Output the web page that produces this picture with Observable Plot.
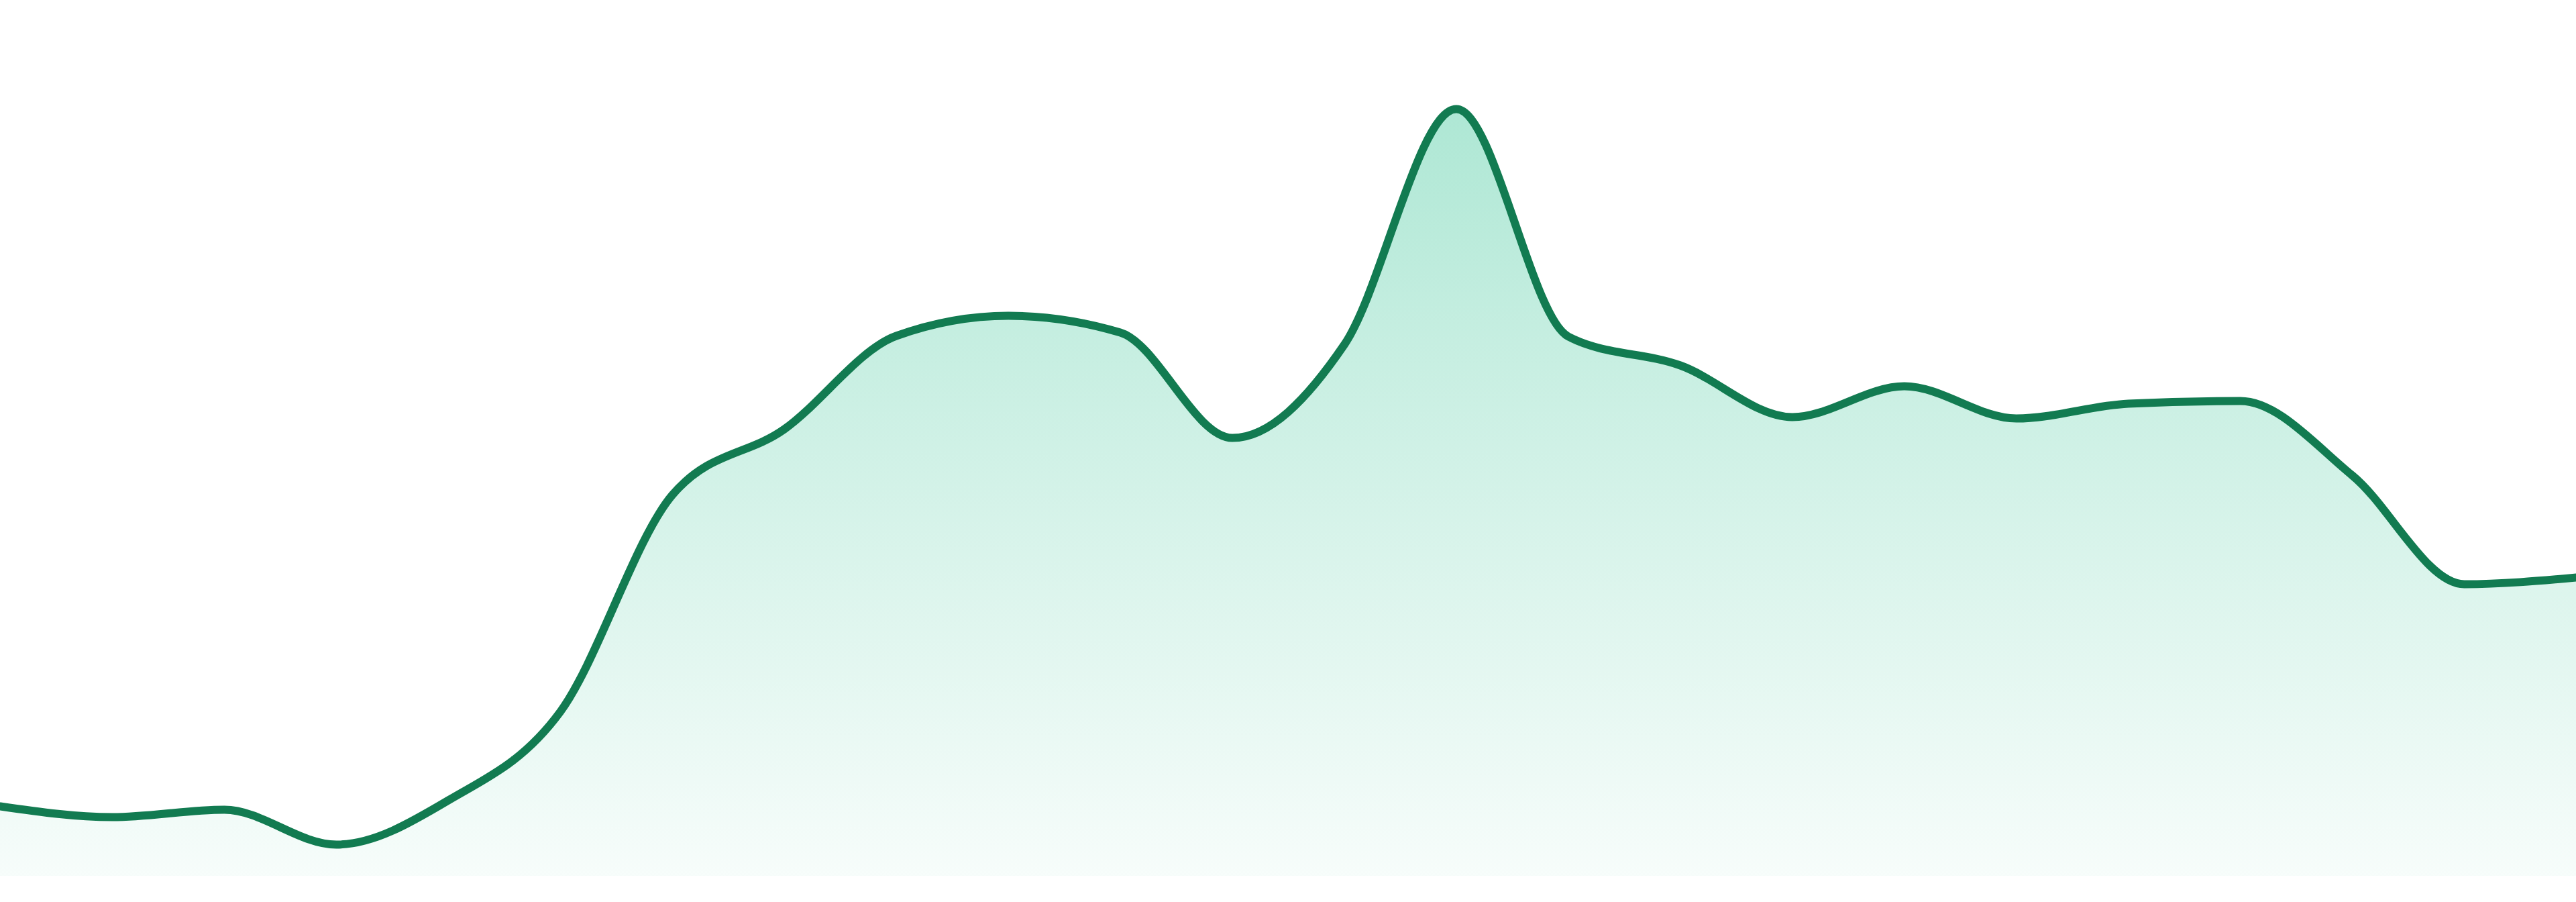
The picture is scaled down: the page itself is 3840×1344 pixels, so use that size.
<!DOCTYPE html>
<html>
<head>
<meta charset="utf-8">
<script src="https://cdn.jsdelivr.net/npm/d3@7"></script>
<script src="https://cdn.jsdelivr.net/npm/@observablehq/plot@0.6"></script>
<style>
  html, body { margin: 0; padding: 0; background: #ffffff; overflow: hidden; }
  #chart svg { display: block; }
</style>
</head>
<body>
<div id="chart"></div>
<script>
// Period index (evenly spaced samples across the chart)
const periods = [0, 1, 2, 3, 4, 5, 6, 7, 8, 9, 10, 11, 12, 13, 14, 15, 16, 17, 18, 19, 20, 21, 22, 23];
// Series values (relative units, baseline 0)
const values = [10.4, 8.8, 9.9, 4.7, 11.3, 24.5, 56.8, 66.6, 80.5, 83.5, 81.0, 65.3,
                79.2, 114.3, 80.4, 76.1, 68.4, 73.0, 68.2, 70.4, 70.8, 59.7, 43.5, 44.5];

const lineColor = "#127b51";
const fillColor = "#10b981";

const data = periods.map((p, i) => ({period: p, value: values[i]}));

// Gradient definition mark
const gradientDefs = () => {
  const ns = "http://www.w3.org/2000/svg";
  const defs = document.createElementNS(ns, "defs");
  const lg = document.createElementNS(ns, "linearGradient");
  lg.setAttribute("id", "areaGrad");
  lg.setAttribute("x1", "0"); lg.setAttribute("y1", "0");
  lg.setAttribute("x2", "0"); lg.setAttribute("y2", "1");
  [[0, 0.34], [0.3, 0.24], [1, 0.035]].forEach(([o, a]) => {
    const s = document.createElementNS(ns, "stop");
    s.setAttribute("offset", o);
    s.setAttribute("stop-color", fillColor);
    s.setAttribute("stop-opacity", a);
    lg.appendChild(s);
  });
  defs.appendChild(lg);
  return defs;
};

const chart = Plot.plot({
  width: 3840,
  height: 1344,
  marginTop: 0,
  marginRight: 0,
  marginBottom: 39,
  marginLeft: 0,
  style: {background: "#ffffff"},
  x: {domain: [0, 23], axis: null},
  y: {domain: [0, 130.5], axis: null},
  marks: [
    gradientDefs,
    Plot.areaY(data, {x: "period", y: "value", curve: "monotone-x", fill: "url(#areaGrad)"}),
    Plot.lineY(data, {x: "period", y: "value", curve: "monotone-x", stroke: lineColor, strokeWidth: 12})
  ]
});
document.getElementById("chart").appendChild(chart);
</script>
</body>
</html>
